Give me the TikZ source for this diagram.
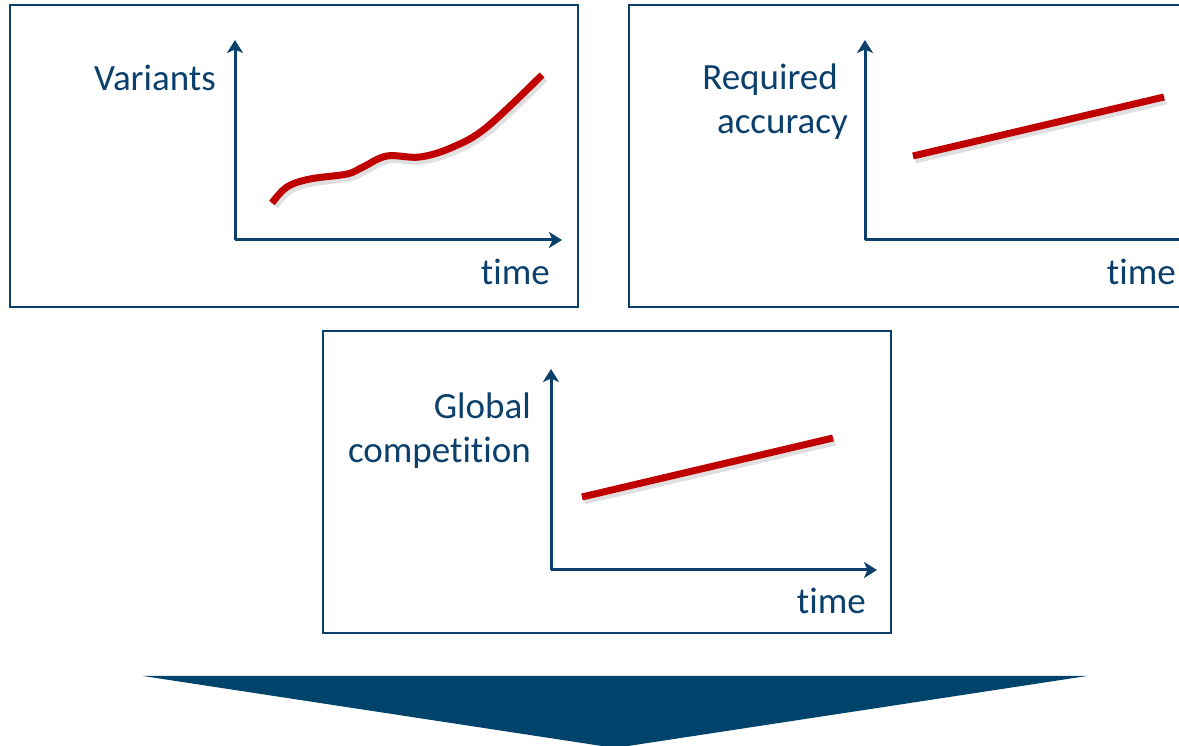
\documentclass[tikz,border=0pt]{standalone}
\usepackage{fontspec}
\setmainfont{Carlito}[Ligatures=NoCommon]
\usetikzlibrary{arrows.meta,positioning}
\definecolor{darkblue}{HTML}{0B3F6C}
\definecolor{arrowblue}{HTML}{00436B}
\definecolor{trendred}{HTML}{C00000}
\tikzset{
    %Define standard arrow tip
    >={Stealth[length=13pt,width=16pt,inset=3.5pt]},
    %Define style for the panels
    panel/.style={
           rectangle,
           draw=darkblue, line width=1.3pt,
           minimum width=568pt,
           minimum height=302pt,
           inner sep=0pt},
    % Define axis style
    axis/.style={
           ->,
           draw=darkblue,
           line width=3pt},
    % Define style for the labels
    lbl/.style={
           text=darkblue,
           font=\fontsize{37}{45}\selectfont,
           inner sep=0pt},
    trend/.style={
           draw=trendred,
           line width=7pt},
    trendshadow/.style={
           draw=black, opacity=0.12,
           line width=9pt,
           shift={(2,-3)}}
}
\begin{document}
\begin{tikzpicture}[x=1pt,y=1pt]
\useasboundingbox (0,0) rectangle (1179,746);
\clip (0,0) rectangle (1179,746);
 %panels
\node[panel](variants) at (294,590){};
\node[panel](accuracy) at (913,590){};
\node[panel](competition) at (607,264){};
 %axes
\coordinate (o1) at (235,506);
\coordinate (y1) at (235,706);
\coordinate (x1) at (562,506);
\coordinate (o2) at (865,506);
\coordinate (y2) at (865,706);
\coordinate (x2) at (1192,506);
\coordinate (o3) at (551,176);
\coordinate (y3) at (551,377);
\coordinate (x3) at (877,176);
\draw[axis] (o1) -- (y1);
\draw[axis] (o1) -- (x1);
\draw[axis] (o2) -- (y2);
\draw[axis] (o2) -- (x2);
\draw[axis] (o3) -- (y3);
\draw[axis] (o3) -- (x3);
 %labels
\node[lbl, anchor=base east](l1) at (216,655){Variants};
\node[lbl, anchor=base east](t1) at (550,461){time};
\node[lbl, anchor=base east](l2a) at (838,656){Required};
\node[lbl, anchor=base east](l2b) at (848,612){accuracy};
\node[lbl, anchor=base east](t2) at (1176,461){time};
\node[lbl, anchor=base east](l3a) at (531,327){Global};
\node[lbl, anchor=base east](l3b) at (531,283){competition};
\node[lbl, anchor=base east](t3) at (866,132){time};
 %trends
\draw[trendshadow] plot[smooth, tension=0.6] coordinates {(272,543) (287,559) (310,567) (347,572) (363,579) (387,590) (420,589) (453,599) (487,619) (542,671)};
\draw[trend] plot[smooth, tension=0.6] coordinates {(272,543) (287,559) (310,567) (347,572) (363,579) (387,590) (420,589) (453,599) (487,619) (542,671)};
\draw[trendshadow] (913,590) -- (1164,649);
\draw[trend] (913,590) -- (1164,649);
\draw[trendshadow] (582,249) -- (833,308);
\draw[trend] (582,249) -- (833,308);
 %big arrow
\fill[arrowblue] (143,70) -- (1087,70) -- (615,-2) -- cycle;
\end{tikzpicture}
\end{document}
